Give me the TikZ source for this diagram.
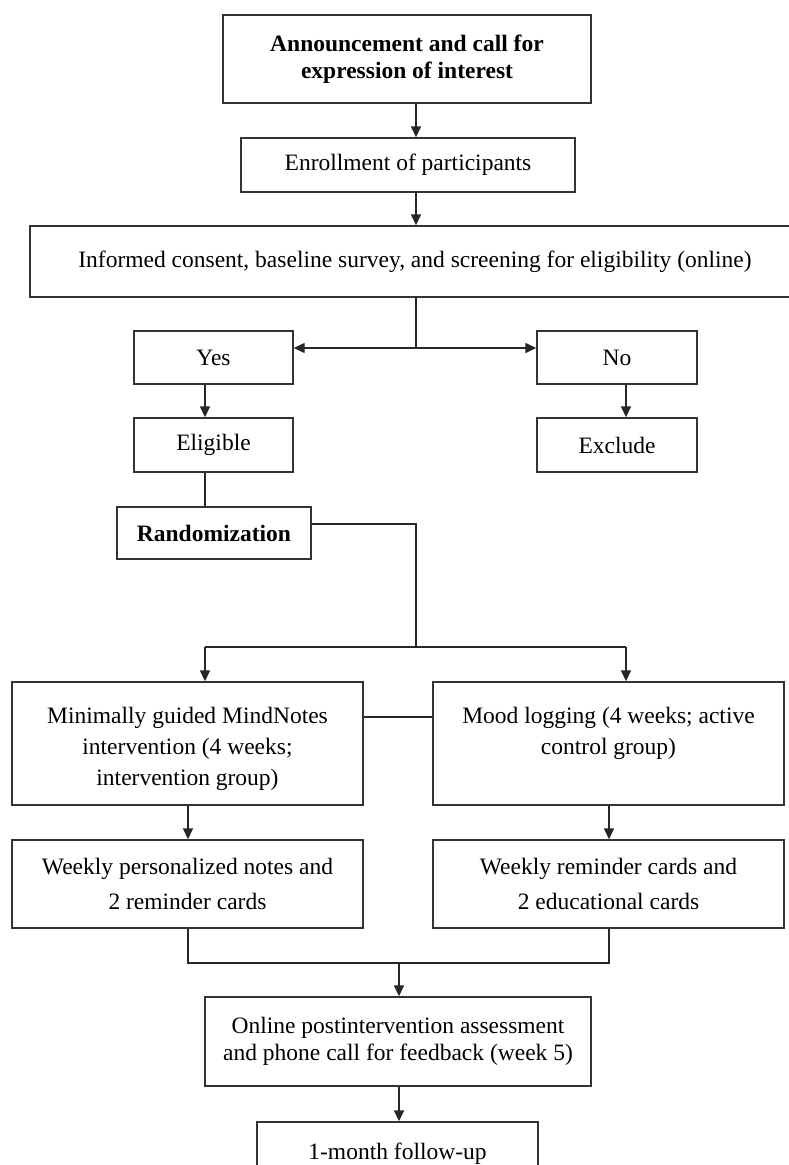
\documentclass[tikz,border=0pt]{standalone}
\usepackage{fontspec}
\setmainfont{Liberation Serif}
\usetikzlibrary{arrows.meta}
\begin{document}
\begin{tikzpicture}[x=1pt,y=-1pt,
  box/.style={draw=black!80,line width=1.4pt,inner sep=0pt,align=center,
    font=\fontsize{23.5}{27}\selectfont},
  txt/.style={inner sep=0pt,align=center,font=\fontsize{23.5}{31}\selectfont},
  arr/.style={draw=black!85,line width=1.4pt,-{Triangle[length=11pt,width=10pt]}},
  ln/.style={draw=black!85,line width=1.4pt}]
\useasboundingbox (0,0) rectangle (789,1165);
\fill[white] (0,0) rectangle (789,1165);

\node[box,font=\fontsize{23.5}{27}\selectfont\bfseries,minimum width=368pt,minimum height=88pt] (top) at (407,59)
  {Announcement and call for\\expression of interest};
\node[box,minimum width=334pt,minimum height=54pt] (enroll) at (408,165) {Enrollment of participants};
\node[box,minimum width=770pt,minimum height=71pt] (informed) at (415,261.5)
  {Informed consent, baseline survey, and screening for eligibility (online)};
\node[box,minimum width=159pt,minimum height=53pt] (yes) at (213.5,357.5) {Yes};
\node[box,minimum width=160pt,minimum height=53pt] (no) at (617,357.5) {No};
\node[box,minimum width=159pt,minimum height=54pt] (eligible) at (213.5,445) {Eligible};
\node[box,minimum width=160pt,minimum height=54pt] (exclude) at (617,445) {Exclude};
\node[box,font=\fontsize{23.5}{27}\selectfont\bfseries,minimum width=194pt,minimum height=52pt] (random) at (214,533) {Randomization};
\node[box,minimum width=351pt,minimum height=123pt] (mind) at (187.5,743.5) {};
\node[txt] (mindt) at (187.5,749) {Minimally guided MindNotes\\intervention (4 weeks;\\intervention group)};
\node[box,minimum width=351pt,minimum height=123pt] (mood) at (608.5,743.5) {};
\coordinate (moodc) at (608.5,743.5);
\node[txt,anchor=north] (moodt) at (moodc |- mindt.north) {Mood logging (4 weeks; active\\control group)};
\node[box,font=\fontsize{23.5}{35}\selectfont,minimum width=351pt,minimum height=88pt] (wk1) at (187.5,884)
  {Weekly personalized notes and\\2 reminder cards};
\node[box,font=\fontsize{23.5}{35}\selectfont,minimum width=351pt,minimum height=88pt] (wk2) at (608.5,884)
  {Weekly reminder cards and\\2 educational cards};
\node[box,minimum width=386pt,minimum height=89pt] (online) at (398,1041.5)
  {Online postintervention assessment\\and phone call for feedback (week 5)};
\node[box,minimum width=281pt,minimum height=64pt] (follow) at (397.5,1154) {1-month follow-up};

\coordinate (cx) at (416,0);
\coordinate (j1) at (416,348);
\coordinate (r1) at (416,524);
\coordinate (j2) at (416,647);
\coordinate (sl) at (205,647);
\coordinate (sr) at (626,647);
\coordinate (ml) at (188,963);
\coordinate (mr) at (609,963);
\coordinate (mc) at (399,963);

\draw[arr] (top.south -| cx) -- (enroll.north -| cx);
\draw[arr] (enroll.south -| cx) -- (informed.north -| cx);
\draw[ln] (informed.south -| cx) -- (j1);
\draw[arr] (j1) -- (j1 -| yes.east);
\draw[arr] (j1) -- (j1 -| no.west);
\draw[arr] (yes.south -| sl) -- (eligible.north -| sl);
\draw[arr] (no.south -| sr) -- (exclude.north -| sr);
\draw[ln] (eligible.south -| sl) -- (random.north -| sl);
\draw[ln] (random.east |- r1) -- (r1) -- (j2);
\draw[ln] (sl) -- (sr);
\draw[arr] (sl) -- (mind.north -| sl);
\draw[arr] (sr) -- (mood.north -| sr);
\draw[ln] (mind.east |- 0,717) -- (mood.west |- 0,717);
\draw[arr] (mind.south -| ml) -- (wk1.north -| ml);
\draw[arr] (mood.south -| mr) -- (wk2.north -| mr);
\draw[ln] (wk1.south -| ml) -- (ml) -- (mr) -- (wk2.south -| mr);
\draw[arr] (mc) -- (online.north -| mc);
\draw[arr] (online.south -| mc) -- (follow.north -| mc);
\end{tikzpicture}
\end{document}
